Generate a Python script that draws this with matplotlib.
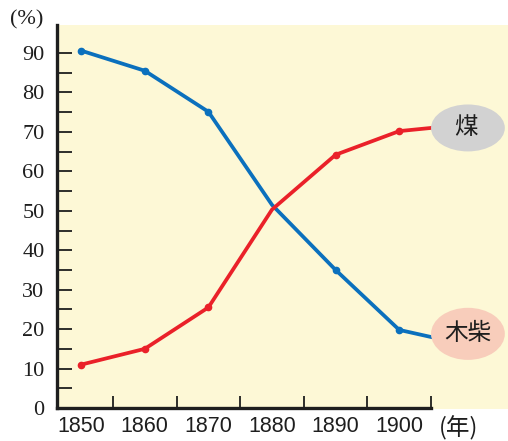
import matplotlib
matplotlib.use("Agg")
import matplotlib.pyplot as plt
from matplotlib.patches import Ellipse, Rectangle
from matplotlib.ticker import FixedLocator

years = [1850, 1860, 1870, 1880, 1890, 1900]
coal = [11, 15, 25.5, 50.3, 64.2, 70.2]
wood = [90.6, 85.5, 75.1, 51.5, 35, 19.8]
end_year = 1905
coal_end = 71.0
wood_end = 18.0
tick_labels = ["1850", "1860", "1870", "1880", "1890", "1900"]
label_coal = "煤"
label_wood = "木柴"

BG = "#fdf8d6"
BLUE = "#0b70bd"
RED = "#ea2129"
INK = "#1e1e1e"

fig = plt.figure(figsize=(5.08, 4.41), dpi=100)
fig.patch.set_facecolor("white")
ax = fig.add_axes([57/508, 1-408/441, 1-57/508, (408-25)/441])
ax.set_facecolor(BG)
ax.set_xlim(1846.2, 1917.1)
ax.set_ylim(0, 97.1)

for s in ["top", "right"]:
    ax.spines[s].set_visible(False)
ax.spines["left"].set_linewidth(2.4)
ax.spines["bottom"].set_linewidth(2.4)
ax.spines["left"].set_color(INK)
ax.spines["bottom"].set_color(INK)
ax.spines["bottom"].set_bounds(1846.2, 1905)

ax.add_patch(Rectangle((1905, -0.3), 20, 0.3, facecolor=BG, edgecolor="none",
                       clip_on=False, zorder=0))

ax.plot(years + [end_year], wood + [wood_end], color=BLUE, lw=2.7,
        solid_joinstyle="miter", zorder=3)
ax.plot(years + [end_year], coal + [coal_end], color=RED, lw=2.7,
        solid_joinstyle="miter", zorder=3)
ax.plot([y for y in years if y != 1880], [v for y, v in zip(years, wood) if y != 1880],
        "o", color=BLUE, ms=4.5, zorder=4)
ax.plot([y for y in years if y != 1880], [v for y, v in zip(years, coal) if y != 1880],
        "o", color=RED, ms=4.5, zorder=4)

ax.yaxis.set_major_locator(FixedLocator(range(0, 91, 10)))
ax.yaxis.set_minor_locator(FixedLocator(range(5, 90, 10)))
ax.tick_params(axis="y", which="both", direction="in", length=11, width=1.3,
               color=INK, pad=9, labelcolor=INK)
ax.set_yticklabels([str(v) for v in range(0, 91, 10)],
                   fontfamily="Liberation Serif", fontsize=16)

ax.xaxis.set_major_locator(FixedLocator(years))
ax.set_xticklabels(tick_labels, fontfamily=["Liberation Sans Narrow", "Liberation Sans"],
                   fontsize=15.5, color=INK)
ax.xaxis.set_minor_locator(FixedLocator([1855, 1865, 1875, 1885, 1895, 1905]))
ax.tick_params(axis="x", which="major", length=0, pad=6)
ax.tick_params(axis="x", which="minor", direction="in", length=9, width=1.3, color=INK)

ax.add_patch(Ellipse((1910.8, coal_end), 11.6, 11.9, facecolor="#d2d2d2",
                     edgecolor="none", zorder=5))
ax.add_patch(Ellipse((1910.8, wood_end + 0.8), 11.6, 13.2, facecolor="#f8cdbb",
                     edgecolor="none", zorder=5))
ax.text(1910.5, coal_end, label_coal, ha="center", va="center", fontsize=17,
        family=["Noto Sans CJK SC"], color=INK, zorder=6)
ax.text(1910.8, wood_end + 0.8, label_wood, ha="center", va="center", fontsize=17,
        family=["Noto Sans CJK SC"], color=INK, zorder=6)

fig.text(27/508, 1-20/441, "(%)", ha="center", va="center", fontsize=16,
         family="Liberation Serif", color=INK)
fig.text(459/508, 1-428/441, "(年)", ha="center", va="center", fontsize=17,
         family=["Noto Sans CJK SC"], color=INK)

fig.savefig("out.png", dpi=100)
